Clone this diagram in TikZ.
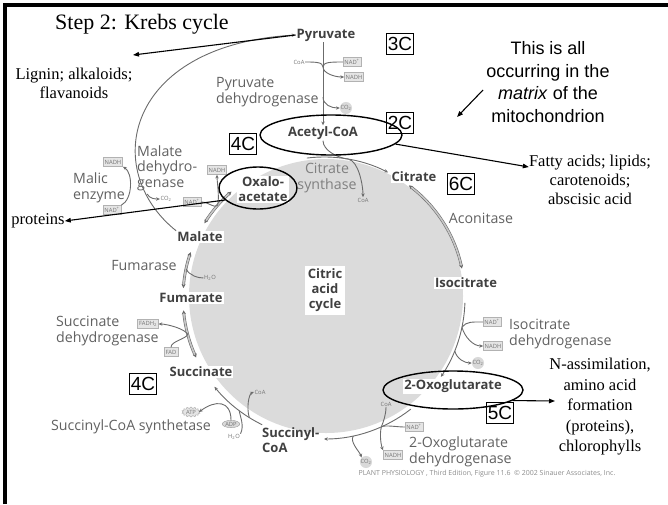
\documentclass[tikz,border=0pt]{standalone}
\usepackage{fontspec}
\setmainfont{Liberation Serif}
\setsansfont{Liberation Sans}
\newfontfamily\figfont{Open Sans}
\usetikzlibrary{arrows.meta,calc,shapes.geometric,shapes.symbols}

\begin{document}
\begin{tikzpicture}[
  x=1pt,y=-1pt,
  met/.style={font=\figfont\bfseries\fontsize{13}{15}\selectfont, text=black!75, fill=white, inner sep=1pt, align=center},
  enz/.style={font=\figfont\fontsize{14.2}{15.6}\selectfont, text=black!62, inner sep=0pt, align=left},
  chip/.style={draw=black!30, fill=black!10, text=black!55, font=\figfont\fontsize{5.8}{6}\selectfont, inner sep=1.4pt, minimum height=9pt},
  gas/.style={circle, fill=black!15, text=black!55, font=\figfont\fontsize{5.8}{6}\selectfont, inner sep=0pt, minimum size=12pt},
  tiny/.style={text=black!55, font=\figfont\fontsize{5.8}{6}\selectfont, inner sep=0.5pt},
  cbox/.style={draw, line width=0.6pt, font=\sffamily\fontsize{19}{19}\selectfont, inner sep=1.5pt, minimum height=21pt},
  note/.style={font=\fontsize{16.5}{19}\selectfont, align=center, inner sep=0pt},
  ring/.style={draw, ellipse, line width=1.4pt, inner sep=0pt},
  flow/.style={draw=black!58, line width=0.9pt},
  fl/.style={flow, -{Stealth[length=3.8pt,width=3.4pt]}},
  dbl/.style={draw=black!58, double=black!22, line width=0.6pt, double distance=1.6pt, {Stealth[length=4pt,width=4pt]}-{Stealth[length=4pt,width=4pt]}},
  arrow/.style={-{Triangle[length=6pt,width=4.5pt]}, line width=1.1pt}
]
\useasboundingbox (0,0) rectangle (668,504);
\fill[black!14] (326,296) circle[radius=137];
\draw[line width=3.3pt] (5,504) -- (5,5) -- (668,5);
\coordinate (K) at (324,298);

\node[met] (pyr) at (326,35) {Pyruvate};
\node[met] (acl) at (323,133) {Acetyl-CoA};
\node[met] (cit) at (414,177) {Citrate};
\node[met] (iso) at (466,283) {Isocitrate};
\node[met] (ogl) at (453,386) {2-Oxoglutarate};
\node[met, align=left, anchor=west, fill=none] (sco) at (261,440) {Succinyl-\\CoA};
\node[met] (suc) at (201,372) {Succinate};
\node[met] (fum) at (191,298) {Fumarate};
\node[met] (mal) at (200,237) {Malate};
\node[met] (oxa) at (263,189) {Oxalo-\\acetate};
\node[met, inner sep=3pt] (cac) at (325,290) {Citric\\acid\\cycle};

\node[enz, anchor=west] (pdh) at (216,92) {Pyruvate\\dehydrogenase};
\node[enz, align=center, text=black!50] (cs) at (327,178) {Citrate\\synthase};
\node[enz] (aco) at (481,218) {Aconitase};
\node[enz, anchor=west] (idh) at (509,334) {Isocitrate\\dehydrogenase};
\node[enz, anchor=west] (ogdh) at (409,452) {2-Oxoglutarate\\dehydrogenase};
\node[enz] (scs) at (131,427) {Succinyl-CoA synthetase};
\node[enz, anchor=west] (sdh) at (56,331) {Succinate\\dehydrogenase};
\node[enz] (fms) at (144,265) {Fumarase};
\node[enz, anchor=west] (mdh) at (137,168) {Malate\\dehydro-\\genase};
\node[enz, anchor=west] (me) at (73,188) {Malic\\enzyme};

\node[tiny] (coa1) at (299,62) {CoA};
\node[chip] (nad1) at (352,62) {NAD\textsuperscript{+}};
\node[chip] (nadh1) at (354,77) {NADH};
\node[gas] (co2a) at (346,108) {CO\textsubscript{2}};
\node[tiny] (coa2) at (363,200) {CoA};
\node[chip] (nad2) at (492,322) {NAD\textsuperscript{+}};
\node[chip] (nadh2) at (493,346) {NADH};
\node[gas] (co2b) at (478,363) {CO\textsubscript{2}};
\node[tiny] (coa3) at (386,404) {CoA};
\node[chip] (nad3) at (414,427) {NAD\textsuperscript{+}};
\node[chip] (nadh3) at (393,455) {NADH};
\node[gas] (co2c) at (366,462) {CO\textsubscript{2}};
\node[tiny] (coa4) at (260,392) {CoA};
\node[starburst, starburst points=14, starburst point height=1.5pt, random starburst=0, draw=black!35, fill=black!10, text=black!55, font=\figfont\fontsize{5.8}{6}\selectfont, inner sep=0.5pt] (atp) at (191,412) {ATP};
\node[ellipse, draw=black!40, fill=black!15, text=black!55, font=\figfont\fontsize{5.8}{6}\selectfont, inner sep=0.5pt] (adp) at (231,424) {ADP};
\node[tiny] (wat4) at (234,437) {H\textsubscript{2}O};
\node[chip] (fadh) at (148,324) {FADH\textsubscript{2}};
\node[chip] (fad) at (171,352) {FAD};
\node[tiny] (wat5) at (210,278) {H\textsubscript{2}O};
\node[chip] (nadh6) at (217,170) {NADH};
\node[chip] (nad6) at (192,202) {NAD\textsuperscript{+}};
\node[chip] (nadh7) at (113,162) {NADH};
\node[chip] (nad7) at (112,210) {NAD\textsuperscript{+}};
\node[tiny] (co2m) at (166,199) {CO\textsubscript{2}};

\coordinate (pj1) at (323,67);
\coordinate (pj2) at (323,97);
\draw[fl] (pyr.south -| acl.north) -- (acl.north);
\draw[flow] (coa1.east) .. controls +(10,0) and +(0,-5) .. (pj1);
\draw[flow] (nad1.west) .. controls +(-12,0) and +(0,-5) .. (pj1);
\draw[fl] (pj1) .. controls +(0,6) and +(-10,0) .. (nadh1.west);
\draw[fl] (pj2) .. controls +(0,8) and +(-8,0) .. (co2a.west);

\coordinate (aj) at ($(K)+(-80:141)$);
\draw[flow] (acl.south) .. controls +(0,10) and +(-10,-1) .. (aj);
\draw[fl] (aj) .. controls +(10,2) and +(0,-12) .. (coa2.north);
\draw[fl] ($(K)+(-97:141)$) arc[start angle=-97, end angle=-63, radius=141];

\draw[dbl] ($(K)+(-53:141)$) arc[start angle=-53, end angle=-12, radius=141];

\coordinate (ij1) at ($(K)+(12:141)$);
\coordinate (ij2) at ($(K)+(22:141)$);
\draw[fl] ($(K)+(2:141)$) arc[start angle=2, end angle=34, radius=141];
\draw[flow] (nad2.west) .. controls +(-10,0) and +(4,-6) .. (ij1);
\draw[fl] (ij1) .. controls +(3,10) and +(-10,0) .. (nadh2.west);
\draw[fl] (ij2) .. controls +(2,8) and +(-7,0) .. (co2b.west);

\coordinate (oj1) at ($(K)+(66:141)$);
\coordinate (oj2) at ($(K)+(78:141)$);
\draw[fl] ($(K)+(52:141)$) arc[start angle=52, end angle=90, radius=141];
\draw[flow] (coa3.south) .. controls +(0,8) and +(2,-5) .. (oj1);
\draw[flow] (nad3.west) .. controls +(-8,0) and +(4,-2) .. (oj1);
\draw[fl] (oj1) .. controls +(-2,8) and +(-2,-5) .. (nadh3.north west);
\draw[fl] (oj2) .. controls +(-4,6) and +(-2,-6) .. (co2c.north west);

\coordinate (sj1) at ($(K)+(122:141)$);
\coordinate (sj2) at ($(K)+(127:141)$);
\draw[fl] ($(K)+(116:141)$) arc[start angle=116, end angle=141, radius=141];
\draw[fl] (sj1) .. controls +(-3,-10) and +(-5,2) .. (coa4.west);
\draw[flow] (wat4.north east) .. controls +(4,-8) and +(1,6) .. (sj2);
\draw[fl] (adp.north) .. controls (231,400) and (215,400) .. (atp.east);

\coordinate (dj) at ($(K)+(165:141)$);
\draw[dbl] ($(K)+(155:141)$) arc[start angle=155, end angle=175, radius=141];
\draw[flow] (fad.north) .. controls +(0,-6) and +(-3,5) .. (dj);
\draw[fl] (dj) .. controls +(-3,-6) and +(8,0) .. (fadh.east);

\coordinate (fj) at ($(K)+(192:141)$);
\draw[dbl] ($(K)+(184:141)$) arc[start angle=184, end angle=199, radius=141];
\draw[flow] (fj) .. controls +(3,7) and +(-5,0) .. (wat5.west);

\coordinate (mj) at ($(K)+(221:141)$);
\draw[dbl] ($(K)+(212:141)$) arc[start angle=212, end angle=229, radius=141];
\draw[flow] (nad6.east) .. controls +(8,0) and +(-4,3) .. (mj);
\draw[fl] (mj) .. controls +(2,-8) and +(0,6) .. (nadh6.south);

\coordinate (ej) at (147,194);
\draw[fl] (mal.north west) .. controls (100,170) and (125,45) .. (pyr.west);
\draw[fl] (ej) .. controls +(3,5) and +(-4,0) .. (co2m.west);
\draw[fl] (nad7.north east) .. controls +(12,-6) and +(10,6) .. (nadh7.south east);

\node[font=\fontsize{22}{24}\selectfont] (ttl) at (142,24) {Step 2: Krebs cycle};
\node[note] (lig) at (74,83) {Lignin; alkaloids;\\flavanoids};
\node[note, font=\sffamily\fontsize{18}{22.5}\selectfont] (mtx) at (548,82) {This is all\\occurring in the\\\textit{matrix} of the\\mitochondrion};
\node[note] (fat) at (590,180) {Fatty acids; lipids;\\carotenoids;\\abscisic acid};
\node[note] (prt) at (38,221) {proteins};
\node[note, font=\fontsize{16.5}{20.5}\selectfont] (nas) at (600,407) {N-assimilation,\\amino acid\\formation\\(proteins),\\chlorophylls};

\node[cbox] (c3) at (400,44) {3C};
\node[cbox] (c2) at (400,123) {2C};
\node[cbox] (c4a) at (243,144) {4C};
\node[cbox] (c6) at (461,184) {6C};
\node[cbox] (c4b) at (143,384) {4C};
\node[cbox] (c5) at (500,413) {5C};

\node[ring, minimum width=142pt, minimum height=40pt] (acE) at (331,135) {};
\node[ring, minimum width=78pt, minimum height=42pt] (oxE) at (258,188) {};
\node[ring, minimum width=140pt, minimum height=38pt] (ogE) at (453,390) {};

\coordinate (lg) at (133,55);
\coordinate (mt1) at (483,90);
\coordinate (mt2) at (457,117);
\coordinate (fa) at ([yshift=-12pt]fat.north west);
\coordinate (na) at (555,401);
\draw[arrow] (pyr.west) -- (lg);
\draw[arrow] (mt1) -- (mt2);
\draw[arrow] (acE.-8) -- (fa);
\draw[arrow] (oxE.200) -- (prt.east);
\draw[arrow] (ogE.-10) -- (na);

\node[tiny, text=black!45, font=\figfont\fontsize{7}{7}\selectfont] (cpr) at (487,474) {PLANT PHYSIOLOGY , Third Edition, Figure 11.6 \ \textcopyright\ 2002 Sinauer Associates, Inc.};
\end{tikzpicture}
\end{document}
